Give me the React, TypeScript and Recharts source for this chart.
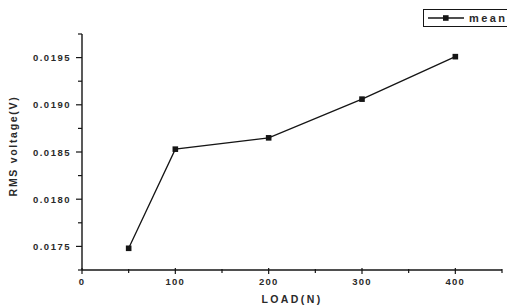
import React from "react";
import { LineChart, Line, XAxis, YAxis } from "recharts";

const loads = [50, 100, 200, 300, 400];
const meanRms = [0.01748, 0.01853, 0.01865, 0.01906, 0.01951];
const xMajorTicks = [0, 100, 200, 300, 400];
const xAllTicks = [0, 50, 100, 150, 200, 250, 300, 350, 400, 450];
const yMajorTicks = [0.0175, 0.018, 0.0185, 0.019, 0.0195];
const yAllTicks = [0.01725, 0.0175, 0.01775, 0.018, 0.01825, 0.0185, 0.01875, 0.019, 0.01925, 0.0195, 0.01975];

const data = loads.map((l, i) => ({ load: l, mean: meanRms[i] }));

const INK = "#151515";
const TEXT = "#2a2a2a";
const FONT = "'Liberation Sans', Arial, sans-serif";

const isMajor = (arr: number[], v: number) => arr.some((m) => Math.abs(m - v) < 1e-9);

const YTick = (props: any) => {
  const { x, y, payload } = props;
  const major = isMajor(yMajorTicks, payload.value);
  return (
    <g>
      <line x1={x} x2={x - (major ? 6 : 4)} y1={y} y2={y} stroke={INK} strokeWidth={1.2} />
      {major && (
        <text x={x - 11} y={y} dy={3.5} textAnchor="end" fontSize={9.5} fontWeight="bold" letterSpacing={1.5} fill={TEXT} fontFamily={FONT}>
          {payload.value.toFixed(4)}
        </text>
      )}
    </g>
  );
};

const XTick = (props: any) => {
  const { x, y, payload } = props;
  const major = isMajor(xMajorTicks, payload.value);
  return (
    <g>
      <line x1={x} x2={x} y1={y - (major ? 2 : 1)} y2={y + (major ? 4 : 3)} stroke={INK} strokeWidth={1.2} />
      {major && (
        <text x={x} y={y} dy={15} textAnchor="middle" fontSize={9.5} fontWeight="bold" letterSpacing={1.2} fill={TEXT} fontFamily={FONT}>
          {payload.value}
        </text>
      )}
    </g>
  );
};

const SquareDot = (props: any) => {
  const { cx, cy } = props;
  if (cx == null || cy == null) return null;
  return <rect x={cx - 2.8} y={cy - 2.8} width={5.6} height={5.6} fill={INK} />;
};

const LegendBox = () => (
  <div
    style={{
      position: "absolute",
      top: 9,
      left: 423,
      border: `1px solid ${INK}`,
      height: 18,
      width: 90,
      boxSizing: "border-box",
      display: "flex",
      alignItems: "center",
      fontFamily: FONT,
      fontSize: 11,
      fontWeight: "bold",
      letterSpacing: 2.4,
      color: TEXT,
      background: "#fff",
    }}
  >
    <svg width={40} height={14} style={{ marginLeft: 3 }}>
      <line x1={1} x2={37} y1={7} y2={7} stroke={INK} strokeWidth={1.3} />
      <rect x={16} y={4.2} width={5.6} height={5.6} fill={INK} />
    </svg>
    <span style={{ marginLeft: 2 }}>mean</span>
  </div>
);

export default function App() {
  return (
    <div style={{ position: "absolute", left: 0, top: 0, width: 507, height: 306, background: "#fff", overflow: "hidden" }}>
      <LineChart width={507} height={306} data={data} margin={{ top: 34, right: 5, bottom: 0, left: 0 }}>
        <XAxis
          dataKey="load"
          type="number"
          domain={[0, 450]}
          ticks={xAllTicks}
          interval={0}
          height={36}
          tickSize={0}
          tickMargin={0}
          tickLine={false}
          tick={<XTick />}
          axisLine={{ stroke: INK, strokeWidth: 1.4 }}
          label={(p: any) => {
            const vb = p.viewBox;
            return (
              <text x={vb.x + vb.width / 2} y={vb.y + 33} textAnchor="middle" fontSize={10.5} fontWeight="bold" letterSpacing={2.4} fill={TEXT} fontFamily={FONT}>
                LOAD(N)
              </text>
            );
          }}
        />
        <YAxis
          type="number"
          domain={[0.01725, 0.01975]}
          ticks={yAllTicks}
          interval={0}
          width={82}
          tickSize={0}
          tickMargin={0}
          tickLine={false}
          tick={<YTick />}
          axisLine={{ stroke: INK, strokeWidth: 1.4 }}
          allowDataOverflow
          label={(p: any) => {
            const vb = p.viewBox;
            const cx = 13;
            const cy = vb.y + vb.height / 2 - 6;
            return (
              <text x={cx} y={cy} transform={`rotate(-90, ${cx}, ${cy})`} textAnchor="middle" dominantBaseline="central" fontSize={10.5} fontWeight="bold" letterSpacing={1.7} fill={TEXT} fontFamily={FONT}>
                RMS voltage(V)
              </text>
            );
          }}
        />
        <Line
          type="linear"
          dataKey="mean"
          name="mean"
          stroke={INK}
          strokeWidth={1.3}
          dot={<SquareDot />}
          activeDot={false}
          isAnimationActive={false}
        />
      </LineChart>
      <LegendBox />
    </div>
  );
}
